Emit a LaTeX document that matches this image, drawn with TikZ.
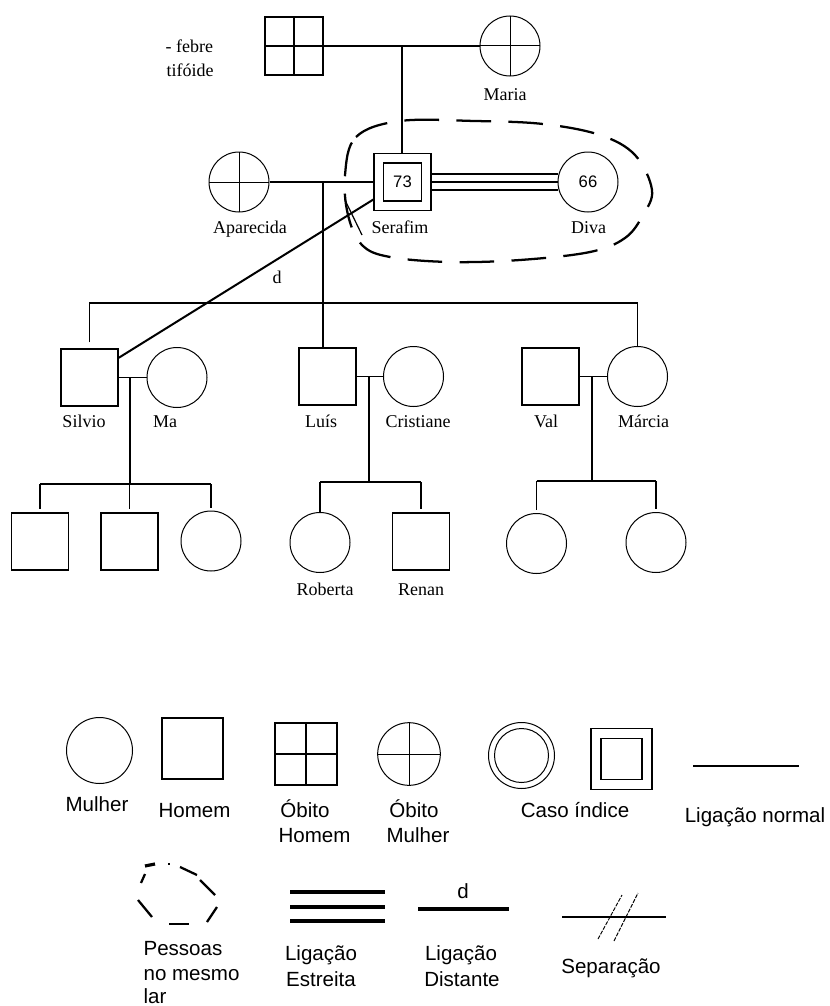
\documentclass[tikz,border=0pt]{standalone}
\usepackage{fontspec}
\setmainfont{Liberation Serif}
\setsansfont{Liberation Sans}
\usetikzlibrary{calc}
\begin{document}
\begin{tikzpicture}[x=0.75pt,y=-0.75pt,line width=0.9pt,
  male/.style={draw,rectangle,minimum size=42.75pt,inner sep=0pt},
  female/.style={draw,circle,minimum size=45pt,inner sep=0pt,line width=0.75pt},
  crossed/.style={path picture={\draw (path picture bounding box.north) -- (path picture bounding box.south)
      (path picture bounding box.west) -- (path picture bounding box.east);}},
  deadm/.style={male,crossed},
  deadf/.style={female,crossed},
  indexm/.style={male,path picture={\draw ([shift={(-14.25pt,-14.25pt)}]path picture bounding box.center)
      rectangle ([shift={(14.25pt,14.25pt)}]path picture bounding box.center);}},
  num/.style={font=\sffamily\fontsize{12.5}{14}\selectfont},
  lab/.style={font=\fontsize{13.5}{18.75}\selectfont,inner sep=0pt,anchor=base},
  leg/.style={font=\sffamily\fontsize{15.4}{18.4}\selectfont,inner sep=0pt,anchor=base},
  closelink/.style={line width=1.9pt},
  distant/.style={line width=1.5pt},
  house/.style={line width=1.7pt,dash pattern=on 26pt off 13pt},
  kid/.style={shorten >=2.25pt}
]
\useasboundingbox (0,0) rectangle (829,1006);

% ---------- generation 1 ----------
\node[deadm,minimum size=43.5pt] (gf) at (294,46) {};
\node[deadf] (maria) at (510,46) {};
\draw (gf.east) -- (maria.west);
\coordinate (c1) at (402,46);
\node[lab,anchor=base west] (febre1) at (165,53) {- febre};
\node[lab,anchor=base west] (febre2) at (166,76) {tifóide};
\node[lab] (lmaria) at (505,100) {Maria};

% ---------- generation 2 ----------
\node[indexm,num] (serafim) at (402.5,182) {73};
\draw (c1) -- (c1 |- serafim.north);
\node[deadf] (aparecida) at (239,182) {};
\draw (aparecida.east) -- (serafim.west);
\node[female,num] (diva) at (588,182) {66};
\foreach \o in {-8,0,8}
  \draw[closelink] ($(serafim.east)+(0,\o)$) -- ($(diva.west)+(0,\o)$);
\node[lab] (laparecida) at (250,233) {Aparecida};
\node[lab] (lserafim) at (400,233) {Serafim};
\node[lab] (ldiva) at (588.5,233) {Diva};

% household outline
\draw[house] plot[smooth cycle,tension=0.6] coordinates {
  (345,175) (356,137) (400,121) (475,121) (543,124) (600,135) (635,155) (652,190)
  (643,215) (625,238) (590,252) (520,260) (450,262) (390,257) (362,245) (348,215)};

% ---------- generation 3 ----------
\coordinate (c2) at (323,182);
\coordinate (sib) at (0,303);
\draw (c2) -- (c2 |- sib);
\node[male] (silvio) at (89.5,377.5) {};
\node[female] (ma) at (177,377.5) {};
\node[male] (luis) at (327.5,376.5) {};
\node[female] (cristiane) at (413.5,376.5) {};
\node[male] (val) at (550.5,376.5) {};
\node[female] (marcia) at (637.5,376.5) {};
\draw ([yshift=4.5pt]silvio.north) -- (silvio.north |- sib) -- (marcia.north |- sib) -- (marcia.north);
\draw (c2 |- sib) -- (c2 |- luis.north);

% distant relation + separation
\draw[distant] (serafim.211) -- (silvio.34);
\node[lab] (dl) at (277,283) {d};
\coordinate (sepa) at (345,200);
\coordinate (sepb) at (362,235);
\draw (sepa) -- (sepb);

\node[lab] (lsilvio) at (84,427) {Silvio};
\node[lab] (lma) at (165,427) {Ma};
\node[lab] (lluis) at (321,427) {Luís};
\node[lab] (lcristiane) at (418,427) {Cristiane};
\node[lab] (lval) at (546,427) {Val};
\node[lab] (lmarcia) at (643.5,427) {Márcia};

% couples
\draw (silvio.east) -- (ma.west);
\draw (luis.east) -- (cristiane.west);
\draw (val.east) -- (marcia.west);

% ---------- generation 4 ----------
\coordinate (d1) at (130,377.5);
\coordinate (s1) at (0,484);
\node[male] (k1) at (40,541.5) {};
\node[male] (k2) at (129.5,541.5) {};
\node[female] (k3) at (211,541) {};
\draw (d1) -- (d1 |- s1);
\draw[kid] (k1.north |- s1) -- (k1.north);
\draw (k1.north |- s1) -- (k3.north |- s1);
\draw[kid] (k2.north |- s1) -- (k2.north);
\draw[kid] (k3.north |- s1) -- (k3.north);

\coordinate (d2) at (369,376.5);
\coordinate (s2) at (0,482);
\node[female] (roberta) at (320,542.5) {};
\node[male] (renan) at (421,541.5) {};
\draw (d2) -- (d2 |- s2);
\draw (roberta.north |- s2) -- (roberta.north);
\draw (roberta.north |- s2) -- (renan.north |- s2);
\draw[kid] (renan.north |- s2) -- (renan.north);
\node[lab] (lroberta) at (325,595) {Roberta};
\node[lab] (lrenan) at (421,595) {Renan};

\coordinate (d3) at (592,376.5);
\coordinate (s3) at (0,481);
\node[female] (m1) at (536.5,543.5) {};
\node[female] (m2) at (656,542.5) {};
\draw (d3) -- (d3 |- s3);
\draw[kid] (m1.north |- s3) -- (m1.north);
\draw (m1.north |- s3) -- (m2.north |- s3);
\draw[kid] (m2.north |- s3) -- (m2.north);

% ---------- legend ----------
\node[female,minimum size=49.5pt] (lw) at (99.5,750.5) {};
\node[leg] (tw) at (97,811) {Mulher};
\node[male,minimum size=45.75pt] (lm) at (192.5,748.5) {};
\node[leg] (tm) at (194.5,817) {Homem};
\node[deadm,minimum size=46.5pt] (ldm) at (306,754) {};
\node[leg] (tdm1) at (305,817) {Óbito};
\node[leg] (tdm2) at (314.5,842) {Homem};
\node[deadf,minimum size=47pt] (ldf) at (409,754) {};
\node[leg] (tdf1) at (414,817) {Óbito};
\node[leg] (tdf2) at (418,842) {Mulher};
\node[female,minimum size=49.5pt,path picture={\draw (path picture bounding box.center) circle[radius=20.25pt];}] (lci) at (521.5,755.5) {};
\node[male,minimum size=45.75pt,path picture={\draw ([shift={(-15.4pt,-15.4pt)}]path picture bounding box.center)
      rectangle ([shift={(15.4pt,15.4pt)}]path picture bounding box.center);}] (lcs) at (621.5,759) {};
\node[leg] (tci) at (575,817) {Caso índice};
\coordinate (na) at (693,766);
\coordinate (nb) at (799,766);
\draw (na) -- (nb);
\node[leg] (tn) at (755,822) {Ligação normal};

% household sketch
\begin{scope}[line width=1.7pt]
\draw[line width=2.4pt] (145,866) -- (155,864);
\draw (168,864) -- (170,864);
\draw (180,867) -- (197,875);
\draw (200,880) -- (215,895);
\draw (217,907) -- (207,922);
\draw (169,924) -- (189,924);
\draw (138,900) -- (152,917);
\draw (141,883) -- (145,874);
\end{scope}
\node[leg,anchor=base west] (th1) at (143,955) {Pessoas};
\node[leg,anchor=base west] (th2) at (143,980) {no mesmo};
\node[leg,anchor=base west] (th3) at (143,1003) {lar};

% close
\coordinate (e1a) at (290,892); \coordinate (e1b) at (385,892);
\coordinate (e2a) at (290,907); \coordinate (e2b) at (385,907);
\coordinate (e3a) at (290,921); \coordinate (e3b) at (385,921);
\draw[line width=2.4pt] (e1a) -- (e1b);
\draw[line width=2.4pt] (e2a) -- (e2b);
\draw[line width=2.4pt] (e3a) -- (e3b);
\node[leg] (te1) at (321,960) {Ligação};
\node[leg] (te2) at (321,986) {Estreita};

% distant
\coordinate (da) at (418,909); \coordinate (db) at (509,909);
\draw[line width=2.4pt] (da) -- (db);
\node[leg] (td) at (463,898) {d};
\node[leg] (tdi1) at (461,960) {Ligação};
\node[leg] (tdi2) at (462,986) {Distante};

% separation
\coordinate (sa) at (562,917); \coordinate (sb) at (666,917);
\draw (sa) -- (sb);
\coordinate (x1a) at (598,939); \coordinate (x1b) at (622,895);
\coordinate (x2a) at (614,941); \coordinate (x2b) at (638,893);
\draw[line width=0.7pt,dash pattern=on 3pt off 1pt] (x1a) -- (x1b);
\draw[line width=0.7pt,dash pattern=on 3pt off 1pt] (x2a) -- (x2b);
\node[leg] (ts) at (611,973) {Separação};
\end{tikzpicture}
\end{document}
